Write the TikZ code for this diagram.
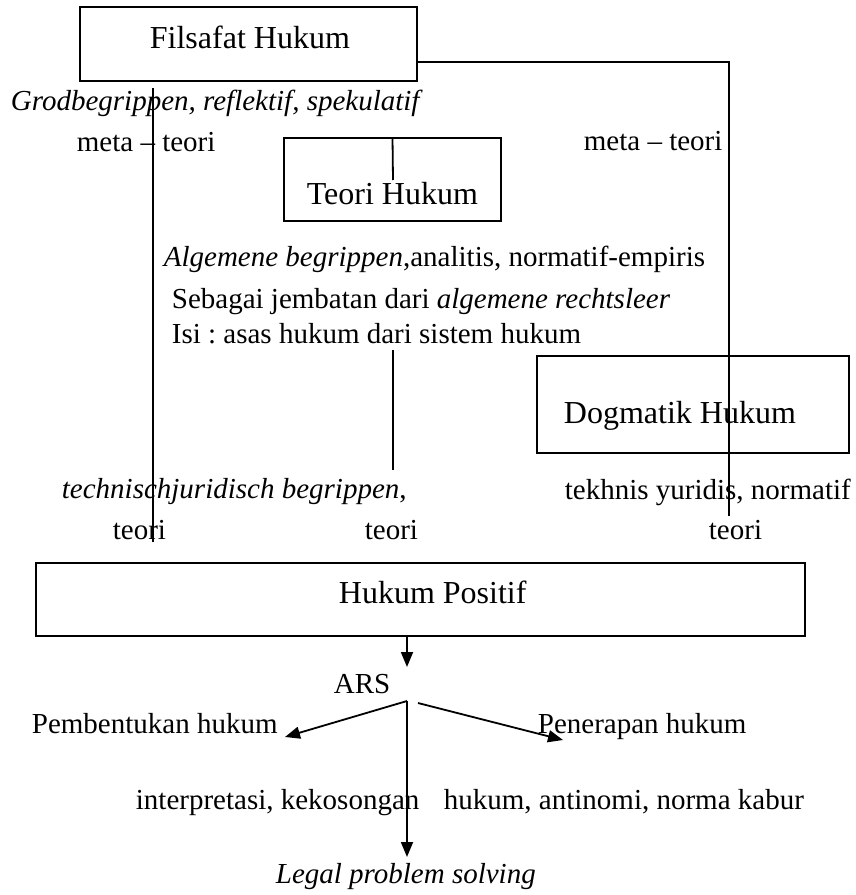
\documentclass[tikz,border=0pt]{standalone}
\usepackage{fontspec}
\setmainfont{Liberation Serif}
\usetikzlibrary{arrows.meta}
\frenchspacing

\begin{document}
\begin{tikzpicture}[x=1pt, y=-1pt, line width=1.8pt,
  box/.style={draw, inner sep=0pt},
  lbl/.style={inner sep=0pt, anchor=base west, font=\fontsize{29}{34}\selectfont},
  big/.style={inner sep=0pt, anchor=base west, font=\fontsize{32}{38}\selectfont},
  arr/.style={-{Triangle[length=15pt,width=12pt]}}]
  \useasboundingbox (0,0) rectangle (855,895);

  % boxes
  \node[box, minimum width=337pt, minimum height=74pt] (filsafat) at (248.5,44) {};
  \node[box, minimum width=217pt, minimum height=83pt] (teori) at (392.5,179.5) {};
  \node[box, minimum width=312pt, minimum height=97pt] (dogmatik) at (693,404.5) {};
  \node[box, minimum width=769pt, minimum height=73pt] (positif) at (420.5,599.5) {};

  \node[big] (tfilsafat) at (149,48) {Filsafat Hukum};
  \node[big] (tteori) at (306,204) {Teori Hukum};
  \node[big] (tdogmatik) at (563,423) {Dogmatik Hukum};
  \node[big] (tpositif) at (338,603) {Hukum Positif};

  % texts
  \node[lbl] (grond) at (10,110) {\textit{Grodbegrippen, reflektif, spekulatif}};
  \node[lbl] (meta1) at (76,151) {meta -- teori};
  \node[lbl] (meta2) at (583,150) {meta -- teori};
  \node[lbl] (algemene) at (163,266) {\textit{Algemene begrippen},analitis, normatif-empiris};
  \node[lbl] (jembatan) at (171,308) {Sebagai jembatan dari \textit{algemene rechtsleer}};
  \node[lbl] (isi) at (171,343) {Isi : asas hukum dari sistem hukum};
  \node[lbl] (technisch) at (61,498) {\textit{technischjuridisch begrippen},};
  \node[lbl] (tekhnis) at (564,499) {tekhnis yuridis, normatif};
  \node[lbl] (teori1) at (112,539) {teori};
  \node[lbl] (teori2) at (364,539) {teori};
  \node[lbl] (teori3) at (708,539) {teori};
  \node[lbl] (ars) at (333,693) {ARS};
  \node[lbl] (pembentukan) at (31,733) {Pembentukan hukum};
  \node[lbl] (penerapan) at (537,733) {Penerapan hukum};
  \node[lbl] (interp) at (135,809) {interpretasi, kekosongan};
  \node[lbl] (antinomi) at (443,809) {hukum, antinomi, norma kabur};
  \node[lbl] (legal) at (275,883) {\textit{Legal problem solving}};

  % lines
  \coordinate (ltop) at (153,88);
  \coordinate (lbot) at (153,542);
  \coordinate (rbot) at (729,516);
  \coordinate (tk) at (393,180);
  \coordinate (mtop) at (393,350);
  \coordinate (mbot) at (393,470);
  \coordinate (split) at (407,701);
  \coordinate (splitr) at (418,703);
  \coordinate (arstop) at (407,667);
  \coordinate (pemb) at (285,737);
  \coordinate (pene) at (563,740);
  \coordinate (lps) at (407,857);

  \draw ([yshift=-18pt]filsafat.east) -| (rbot);
  \draw (ltop) -- (lbot);
  \draw (teori.north) -- (tk);
  \draw (mtop) -- (mbot);

  % arrows
  \draw[arr] (positif.south -| split) -- (arstop);
  \draw[arr] (split) -- (pemb);
  \draw[arr] (splitr) -- (pene);
  \draw[arr] (split) -- (lps);
\end{tikzpicture}
\end{document}
